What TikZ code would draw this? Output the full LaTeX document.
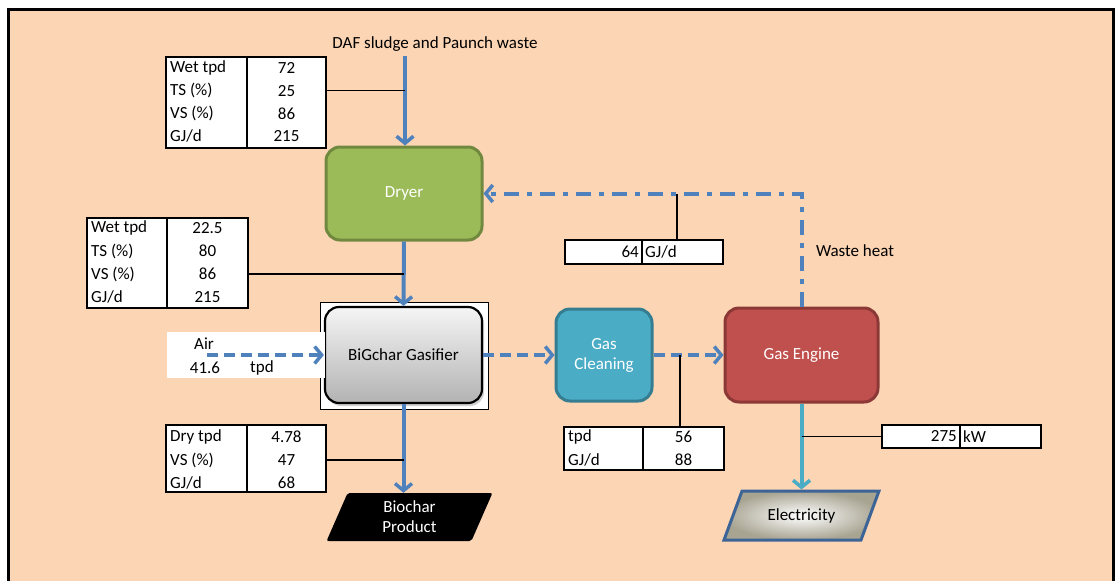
\documentclass[tikz,border=0pt]{standalone}
\usepackage{fontspec}
\setmainfont{Carlito}
\usetikzlibrary{positioning,shapes.geometric,arrows.meta,shadows}
\definecolor{peach}{HTML}{FCD5B5}
\definecolor{flowblue}{HTML}{4F81BD}
\definecolor{elecblue}{HTML}{4BACC6}
\definecolor{dryergreen}{HTML}{9BBB59}
\definecolor{dryeredge}{HTML}{71893F}
\definecolor{cleanteal}{HTML}{4BACC6}
\definecolor{cleanedge}{HTML}{357D91}
\definecolor{enginered}{HTML}{C0504D}
\definecolor{engineedge}{HTML}{8C3836}
\definecolor{paraedge}{HTML}{3C6496}

\tikzset{
  every node/.style={font=\fontsize{17}{20}\selectfont},
  unit/.style={draw, line width=3pt, rounded corners=14pt, text=white, align=center},
  tbl/.style={draw, line width=1.6pt, fill=white, inner sep=0pt},
  keycell/.style={anchor=west, inner sep=0pt},
  valcell/.style={inner sep=0pt},
  tip/.style={-{Straight Barb[length=7pt,width=17pt,line width=3.5pt]}},
  flow/.style={tip, line width=4pt, flowblue},
  gasflow/.style={flow, dash pattern=on 11pt off 6pt},
  heat/.style={flow, dash pattern=on 15pt off 8pt on 5pt off 8pt},
  datalink/.style={line width=1.5pt, black}
}

\begin{document}
\begin{tikzpicture}[x=1pt,y=-1pt]
\useasboundingbox (0,0) rectangle (1115,581);
% Background and frame
\fill[peach] (8,9) rectangle (1113,581);
\draw[line width=3pt] (8,581) -- (8,9) -- (1113,9) -- (1113,581);

% Feed
\node (feed) at (435,44) {DAF sludge and Paunch waste};
\coordinate (feedIn) at (405,56);

% Process units
\node[unit, fill=dryergreen, draw=dryeredge, minimum width=156pt, minimum height=93pt] (dryer) at (404,193.5) {Dryer};
\node[draw=black, line width=0.6pt, fill=white, minimum width=168pt, minimum height=107pt] (frame) at (404,355.5) {};
\node[unit, draw=black, line width=2.2pt, text=black, top color=black!4, bottom color=black!30,
  drop shadow={opacity=0.35, shadow xshift=2pt, shadow yshift=-3pt},
  minimum width=157pt, minimum height=96pt] (gasifier) at (403.5,355) {BiGchar Gasifier};
\node[unit, fill=cleanteal, draw=cleanedge, minimum width=96pt, minimum height=92pt] (clean) at (604,355) {Gas\\Cleaning};
\node[unit, fill=enginered, draw=engineedge, minimum width=153pt, minimum height=94pt] (engine) at (801.5,355) {Gas Engine};

% Products
\node[trapezium, trapezium left angle=62, trapezium right angle=118, trapezium stretches=true,
  draw=paraedge, line width=3pt, inner color=white, outer color={rgb,255:red,168;green,164;blue,146},
  minimum width=155pt, minimum height=49pt] (elec) at (801.5,515.5) {Electricity};
\node[trapezium, trapezium left angle=75, trapezium right angle=105, trapezium stretches=true,
  fill=black, rounded corners=2pt, text=white, align=center,
  minimum width=167pt, minimum height=48pt] (biochar) at (409.5,517) {Biochar\\Product};

% Air inlet
\node[fill=white, minimum width=158pt, minimum height=46pt] (airBox) at (246,355) {};
\node (air) at (204,344) {Air};
\node (airVal) at (205,368) {41.6};
\node (airUnit) at (262,368) {tpd};
\coordinate (airIn) at (207,355);

% Stream tables
\node[tbl, minimum width=160pt, minimum height=91pt] (tab1) at (246,102.5) {};
\draw[line width=1.6pt] (247,57) -- (247,148);
\foreach \k/\v [count=\i] in {Wet tpd/72, TS (\%)/25, VS (\%)/86, {GJ/d}/215} {
  \node[keycell] (t1k\i) at (170,{45.3+22.7*\i}) {\k};
  \node[valcell] (t1v\i) at (286.5,{45.3+22.7*\i}) {\v};
}

\node[tbl, minimum width=161pt, minimum height=90pt] (tab2) at (167.5,263) {};
\draw[line width=1.6pt] (167,218) -- (167,308);
\foreach \k/\v [count=\i] in {Wet tpd/22.5, TS (\%)/80, VS (\%)/86, {GJ/d}/215} {
  \node[keycell] (t2k\i) at (91,{205+23*\i}) {\k};
  \node[valcell] (t2v\i) at (207.5,{205+23*\i}) {\v};
}

\node[tbl, minimum width=160pt, minimum height=67pt] (tab4) at (246,458.5) {};
\draw[line width=1.6pt] (247,425) -- (247,492);
\foreach \k/\v [count=\i] in {Dry tpd/4.78, VS (\%)/47, {GJ/d}/68} {
  \node[keycell] (t4k\i) at (170,{414+23*\i}) {\k};
  \node[valcell] (t4v\i) at (286.5,{414+23*\i}) {\v};
}

\node[tbl, minimum width=160pt, minimum height=43pt] (gasTab) at (644,448.5) {};
\draw[line width=1.6pt] (643,427) -- (643,470);
\foreach \k/\v [count=\i] in {tpd/56, {GJ/d}/88} {
  \node[keycell] (t3k\i) at (568,{414+23*\i}) {\k};
  \node[valcell] (t3v\i) at (683.5,{414+23*\i}) {\v};
}

\node[tbl, minimum width=158pt, minimum height=24pt] (heatTab) at (644,252) {};
\draw[line width=1.6pt] (642,240) -- (642,264);
\node[valcell, anchor=east] (heatVal) at (639,252) {64};
\node[keycell] (heatUnit) at (645,252) {GJ/d};

\node[tbl, minimum width=159pt, minimum height=23pt] (kwTab) at (961.5,436.5) {};
\draw[line width=1.6pt] (960,425) -- (960,448);
\node[valcell, anchor=east] (kwVal) at (957,436.5) {275};
\node[keycell] (kwUnit) at (963,436.5) {kW};

% Flows
\draw[flow] (feedIn) -- (feedIn |- dryer.north);
\draw[flow] (dryer.south) -- (gasifier.north);
\draw[flow] (gasifier.south) -- (gasifier.south |- biochar.north);
\draw[gasflow] (airIn) -- (gasifier.west);
\draw[gasflow] (gasifier.east) -- (clean.west);
\draw[gasflow] (clean.east) -- (engine.west);
\draw[flow, elecblue] (engine.south) -- (engine.south |- elec.north);
\draw[heat] (engine.north) |- (dryer.east);
\node (wasteHeat) at (855,251) {Waste heat};

% Table links
\coordinate (heatLink) at (677,193.5);
\coordinate (gasLink) at (680,355);
\draw[datalink] (tab1.east |- t1v2) -- (t1v2 -| feedIn);
\draw[datalink] (tab2.east |- t2v3) -- (t2v3 -| dryer.south);
\draw[datalink] (tab4.east |- t4v2) -- (t4v2 -| gasifier.south);
\draw[datalink] (heatLink) -- (heatLink |- heatTab.north);
\draw[datalink] (gasLink) -- (gasLink |- gasTab.north);
\draw[datalink] (kwTab.west) -- (kwTab.west -| engine.south);
\end{tikzpicture}
\end{document}
